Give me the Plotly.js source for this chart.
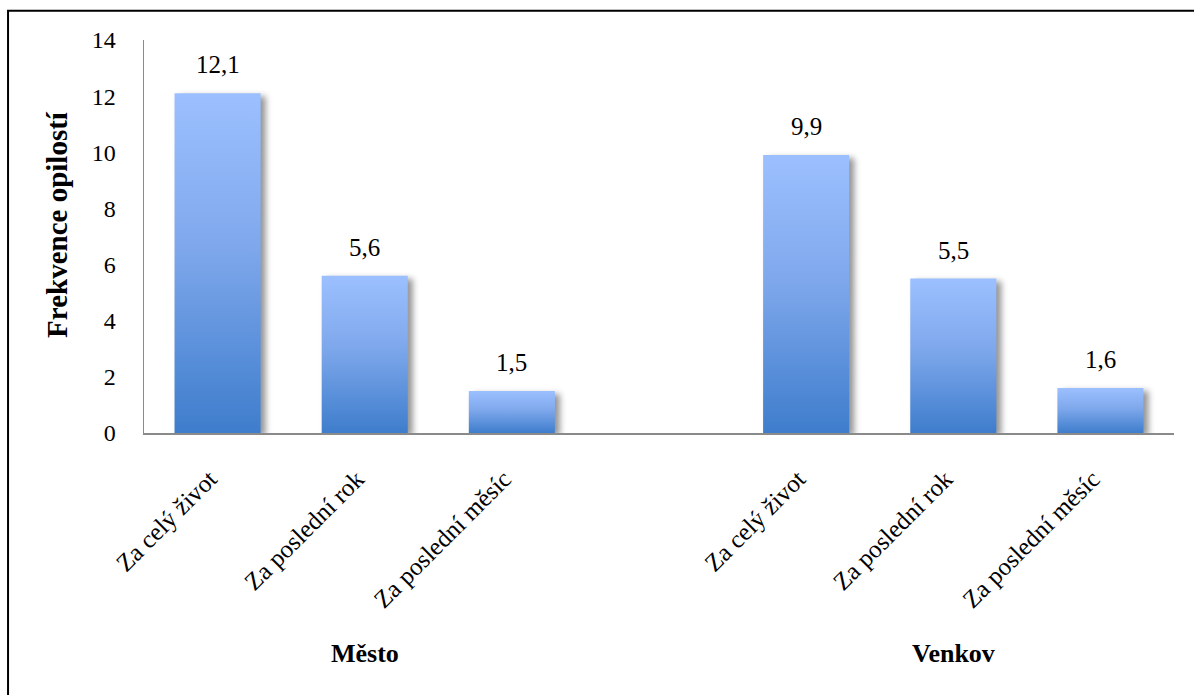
<!DOCTYPE html>
<html>
<head>
<meta charset="utf-8">
<script src="https://cdn.plot.ly/plotly-3.0.1.min.js"></script>
<style>
  html, body { margin: 0; padding: 0; background: #fff; }
  #chart { width: 1194px; height: 695px; }
  /* vertical blue gradient and soft shadow on every bar */
  #chart .barlayer .point path {
    fill: url(#barGradient) !important;
    filter: drop-shadow(5px 3px 3px rgba(0,0,0,0.42));
  }
</style>
</head>
<body>
<svg width="0" height="0" style="position:absolute">
  <defs>
    <linearGradient id="barGradient" x1="0" y1="0" x2="0" y2="1">
      <stop offset="0%" stop-color="#9CC0FF"/>
      <stop offset="45%" stop-color="#7FA8EC"/>
      <stop offset="100%" stop-color="#3E7DCC"/>
    </linearGradient>
  </defs>
</svg>
<div id="chart"></div>
<script>
// Frequency of drunkenness, town vs. countryside
const categories = ['Za celý život', 'Za poslední rok', 'Za poslední měsíc'];
const groups = ['Město', 'Venkov'];
const mestoValues = [12.1, 5.6, 1.5];
const venkovValues = [9.9, 5.5, 1.6];
const yTickValues = [0, 2, 4, 6, 8, 10, 12, 14];

const seriesValues = [mestoValues, venkovValues];
const slotsPerGroup = categories.length + 1; // one empty slot between groups

const serif = "'Liberation Serif', serif";

const traces = [];
const tickvals = [];
const ticktext = [];
const valueLabels = [];
const groupLabels = [];

groups.forEach((g, gi) => {
  const xs = categories.map((c, i) => gi * slotsPerGroup + i);
  const ys = seriesValues[gi];
  traces.push({
    type: 'bar',
    name: g,
    x: xs,
    y: ys,
    width: 0.585,
    marker: { color: '#6A9BE0', line: { width: 0 } },
    hoverinfo: 'skip',
    showlegend: false
  });
  xs.forEach((x, i) => {
    tickvals.push(x);
    ticktext.push(categories[i]);
    valueLabels.push({
      x: x, y: ys[i], xref: 'x', yref: 'y',
      text: ys[i].toFixed(1).replace('.', ','),
      showarrow: false, yanchor: 'bottom', yshift: 13,
      font: { family: serif, size: 25, color: '#000' }
    });
  });
  groupLabels.push({
    x: gi * slotsPerGroup + (categories.length - 1) / 2,
    y: -0.562, xref: 'x', yref: 'paper',
    text: '<b>' + g + '</b>',
    showarrow: false, xanchor: 'center', yanchor: 'middle',
    font: { family: serif, size: 26, color: '#000' }
  });
});

const layout = {
  width: 1194,
  height: 695,
  margin: { l: 144, r: 20, t: 40, b: 262 },
  paper_bgcolor: '#fff',
  plot_bgcolor: '#fff',
  separators: ', ',
  barmode: 'overlay',
  font: { family: serif, color: '#000' },
  xaxis: {
    range: [-0.5, groups.length * slotsPerGroup - 1.5],
    tickmode: 'array',
    tickvals: tickvals,
    ticktext: ticktext,
    tickangle: -45,
    ticks: '',
    ticklabelstandoff: 20,
    ticklabelshift: -8,
    showgrid: false,
    zeroline: false,
    showline: true,
    linecolor: '#8a8a8a',
    linewidth: 1.5,
    tickfont: { family: serif, size: 25, color: '#000' }
  },
  yaxis: {
    range: [0, 14],
    tickmode: 'array',
    tickvals: yTickValues,
    ticks: '',
    ticklabelstandoff: 22,
    showgrid: false,
    zeroline: false,
    showline: true,
    linecolor: '#8a8a8a',
    linewidth: 1.5,
    tickfont: { family: serif, size: 24, color: '#000' }
  },
  annotations: valueLabels.concat(groupLabels, [{
    x: -0.0845, y: 0.532, xref: 'paper', yref: 'paper',
    text: '<b>Frekvence opilostí</b>',
    textangle: -90, showarrow: false,
    xanchor: 'center', yanchor: 'middle',
    font: { family: serif, size: 29, color: '#000' }
  }]),
  shapes: [{
    type: 'rect', xref: 'paper', yref: 'paper',
    x0: -0.132, x1: 1.2, y0: -1.2, y1: 1.0746,
    line: { color: '#000', width: 2 }, fillcolor: 'rgba(0,0,0,0)',
    layer: 'above'
  }]
};

Plotly.newPlot('chart', traces, layout, { displayModeBar: false, staticPlot: true });
</script>
</body>
</html>
